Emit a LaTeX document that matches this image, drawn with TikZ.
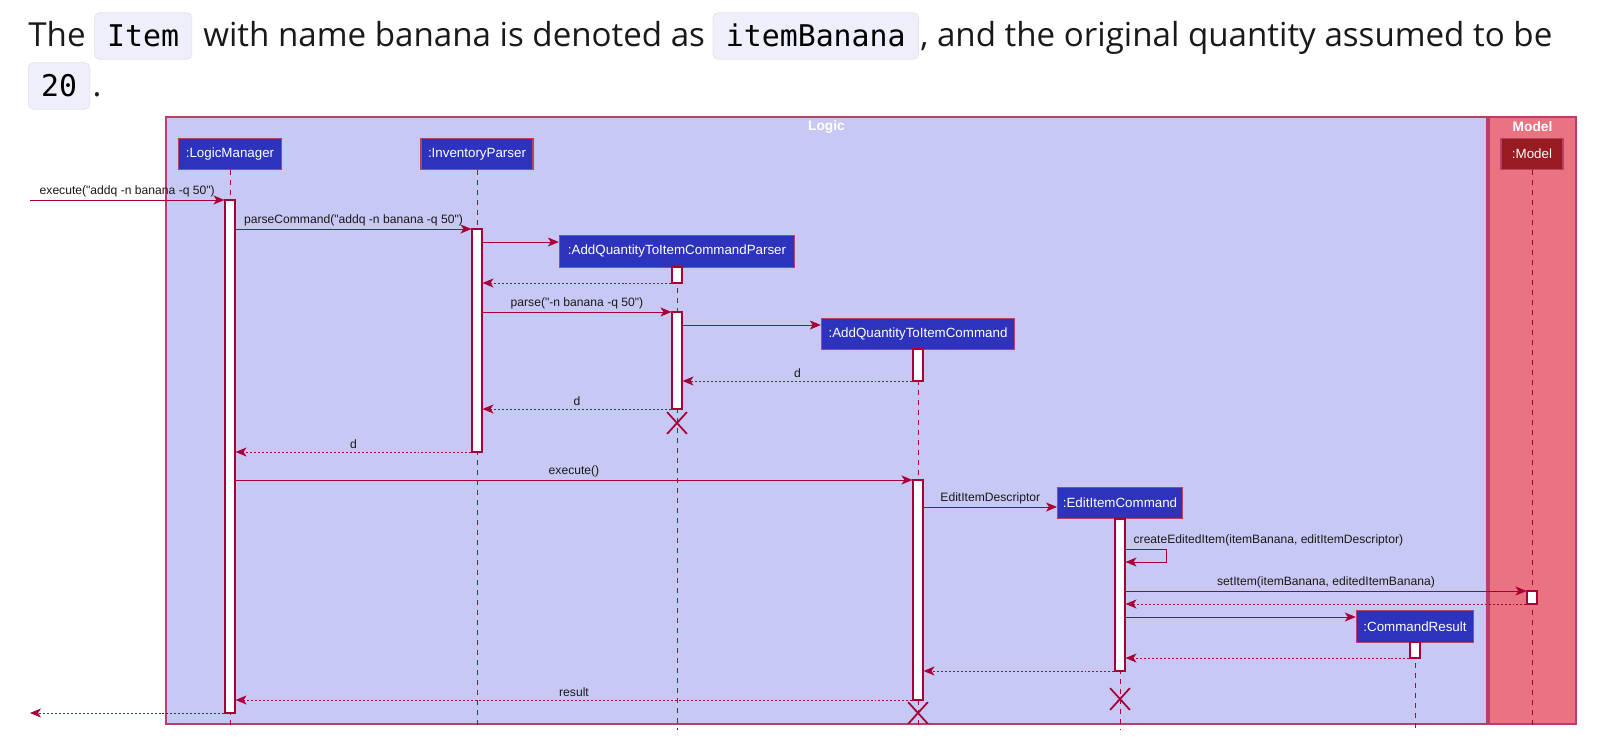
\documentclass[tikz,border=0pt]{standalone}
\usepackage{fontspec}
\setmainfont{Open Sans}
\newfontfamily\umlfont{Liberation Sans}
\newfontfamily\codefont{DejaVu Sans Mono}
\usepackage{tikz}
\usetikzlibrary{positioning, arrows.meta, shapes.misc}

\definecolor{umlred}{HTML}{A80036}
\definecolor{frameline}{HTML}{B84068}
\definecolor{logicfill}{HTML}{C8C8F5}
\definecolor{modelfill}{HTML}{E97380}
\definecolor{partblue}{HTML}{2D33BD}
\definecolor{partred}{HTML}{971B20}
\definecolor{codebg}{HTML}{EFEFFB}
\definecolor{codeline}{HTML}{E1E1EE}

% activation bar: name, x, top, bottom
\newcommand\actbar[4]{%
  \node[actv, minimum height={(#4-#3)*0.02cm}] (#1) at (#2,{(#3+#4)/2}) {};}

\begin{document}
\begin{tikzpicture}[
    x=0.02cm, y=-0.02cm,
    >={Stealth[length=0.22cm, width=0.18cm, inset=0.06cm]},
    txt/.style={anchor=base west, inner sep=0, text=black!90,
                font=\fontsize{18.85}{22}\selectfont},
    code/.style={anchor=base west, inner ysep=0, inner xsep=0.256cm,
                 text height=0.68cm, text depth=0.25cm,
                 rounded corners=3pt, fill=codebg, draw=codeline,
                 font=\codefont\fontsize{17}{20}\selectfont},
    frame/.style={draw=frameline, line width=0.7pt},
    part/.style={draw=frameline, line width=0.8pt, fill=partblue,
                 text=white, minimum height=0.63cm, inner xsep=1pt,
                 font=\umlfont\fontsize{7.6}{9}\selectfont},
    ttl/.style={text=white, inner sep=0,
                font=\umlfont\bfseries\fontsize{7.8}{9}\selectfont},
    life/.style={umlred, line width=0.5pt,
                 dash pattern=on 0.1cm off 0.1cm},
    actv/.style={draw=umlred, fill=white, line width=0.6pt,
                 minimum width=0.2cm, inner sep=0},
    msg/.style={->, umlred, line width=0.55pt},
    ret/.style={msg, dash pattern=on 0.04cm off 0.04cm},
    lbl/.style={font=\umlfont\fontsize{6.9}{8}\selectfont,
                text=black!90, inner sep=1.5pt},
    kill/.style={cross out, draw=umlred, line width=1pt,
                 minimum width=0.36cm, minimum height=0.4cm, inner sep=0},
]

\fill[white] (0,0) rectangle (1602,750);
\useasboundingbox (0,0) rectangle (1602,750);

% --- Text above the diagram ---
\node[txt]  (the)     at (28,46.7)    {The};
\node[code] (itemC)   at (94,46.7)    {Item};
\node[txt]  (with)    at (203,46.7)   {with name banana is denoted as};
\node[code] (bananaC) at (712.7,46.7) {itemBanana};
\node[txt]  (rest)    at (920,46.7)   {, and the original quantity assumed to be};
\node[code] (twenty)  at (28,96.7)    {20};
\node[txt, right=0.04cm of twenty.base east, anchor=base west] (dot) {.};

% --- Frames ---
\draw[frame, fill=logicfill] (166,117) rectangle (1487,724);
\draw[frame, fill=modelfill] (1489,117) rectangle (1576,724);
\node[ttl] (logicT) at (826.5,127) {Logic};
\node[ttl] (modelT) at (1532.5,127) {Model};

% Lifeline positions
\def\xLM{230}
\def\xIP{477}
\def\xPP{677}
\def\xAC{918}
\def\xEC{1120}
\def\xCR{1415}
\def\xMD{1532}

% --- Participants ---
\node[part, minimum width=2.06cm] (lm) at (\xLM,154)   {:LogicManager};
\node[part, minimum width=2.24cm] (ip) at (\xIP,154)   {:InventoryParser};
\node[part, minimum width=4.70cm] (pp) at (\xPP,251.5) {:AddQuantityToItemCommandParser};
\node[part, minimum width=3.86cm] (ac) at (\xAC,334)   {:AddQuantityToItemCommand};
\node[part, minimum width=2.49cm] (ec) at (\xEC,503)   {:EditItemCommand};
\node[part, minimum width=2.34cm] (cr) at (\xCR,626.5) {:CommandResult};
\node[part, fill=partred, minimum width=1.24cm] (md) at (\xMD,154) {:Model};

% Lifelines
\foreach \p/\x in {lm/\xLM, ip/\xIP, pp/\xPP, ac/\xAC, ec/\xEC, cr/\xCR, md/\xMD}
  \draw[life] (\p.south) -- (\x,730);

% --- Activations ---
\actbar{lmA}{\xLM}{200}{713}
\actbar{ipA}{\xIP}{229}{452}
\actbar{ppA}{\xPP}{267}{283}
\actbar{ppB}{\xPP}{312}{409}
\actbar{acA}{\xAC}{349}{381}
\actbar{acB}{\xAC}{480}{700}
\actbar{ecA}{\xEC}{519}{671}
\actbar{mdA}{\xMD}{591}{604}
\actbar{crA}{\xCR}{642}{658}

% Message rows
\foreach \rn/\y in {call/200, parseCmd/229, newParser/242, parserBack/283,
    parse/312, newCmd/325, cmdBack/381, parseBack/409, ipBack/452,
    exec/480, newEdit/507, self/549, selfBack/562, setItem/591,
    setBack/604, newResult/617, resultBack/658, editBack/671,
    result/700, done/713}
  \coordinate (r-\rn) at (0,\y);

\coordinate (caller) at (30,200);
\coordinate (callerBack) at (30,713);

% --- Messages ---
\draw[msg] (caller) -- node[lbl, above]
  {execute("addq -n banana -q 50")} (lmA.west |- r-call);
\draw[msg] (lmA.east |- r-parseCmd) -- node[lbl, above]
  {parseCommand("addq -n banana -q 50")} (ipA.west |- r-parseCmd);
\draw[msg] (ipA.east |- r-newParser) -- (pp.west |- r-newParser);
\draw[ret] (ppA.west |- r-parserBack) -- (ipA.east |- r-parserBack);
\draw[msg] (ipA.east |- r-parse) -- node[lbl, above]
  {parse("-n banana -q 50")} (ppB.west |- r-parse);
\draw[msg] (ppB.east |- r-newCmd) -- (ac.west |- r-newCmd);
\draw[ret] (acA.west |- r-cmdBack) -- node[lbl, above] {d} (ppB.east |- r-cmdBack);
\draw[ret] (ppB.west |- r-parseBack) -- node[lbl, above] {d} (ipA.east |- r-parseBack);
\node[kill] (ppX) at (\xPP,423) {};
\draw[ret] (ipA.west |- r-ipBack) -- node[lbl, above] {d} (lmA.east |- r-ipBack);

\draw[msg] (lmA.east |- r-exec) -- node[lbl, above]
  {execute()} (acB.west |- r-exec);
\draw[msg] (acB.east |- r-newEdit) -- node[lbl, above]
  {EditItemDescriptor} (ec.west |- r-newEdit);

% self call
\draw[msg] (ecA.east |- r-self)
  node[lbl, anchor=south west, xshift=0.1cm]
    {createEditedItem(itemBanana, editItemDescriptor)}
  -- ++(41,0) |- (ecA.east |- r-selfBack);

\draw[msg] (ecA.east |- r-setItem) -- node[lbl, above]
  {setItem(itemBanana, editedItemBanana)} (mdA.west |- r-setItem);
\draw[ret] (mdA.west |- r-setBack) -- (ecA.east |- r-setBack);
\draw[msg] (ecA.east |- r-newResult) -- (cr.west |- r-newResult);
\draw[ret] (crA.west |- r-resultBack) -- (ecA.east |- r-resultBack);
\draw[ret] (ecA.west |- r-editBack) -- (acB.east |- r-editBack);
\node[kill] (ecX) at (\xEC,699) {};
\draw[ret] (acB.west |- r-result) -- node[lbl, above] {result} (lmA.east |- r-result);
\node[kill] (acX) at (\xAC,713) {};
\draw[ret] (lmA.west |- r-done) -- (callerBack);

\end{tikzpicture}
\end{document}
